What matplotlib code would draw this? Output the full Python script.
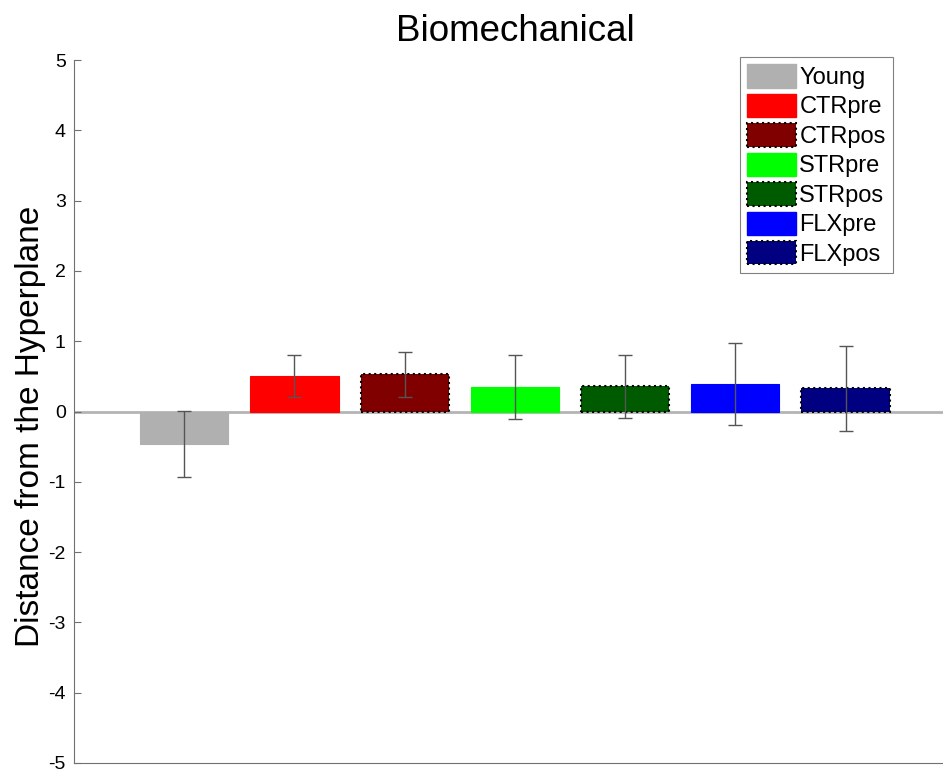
import numpy as np
import matplotlib.pyplot as plt
from matplotlib.patches import Patch

plt.rcParams['font.family'] = ['Liberation Sans', 'DejaVu Sans']
plt.rcParams['axes.unicode_minus'] = False

# ------------------------------ Data ------------------------------
groups = ['Young', 'CTRpre', 'CTRpos', 'STRpre', 'STRpos', 'FLXpre', 'FLXpos']
means = [-0.46, 0.50, 0.53, 0.35, 0.36, 0.39, 0.33]
errs = [0.47, 0.30, 0.32, 0.46, 0.45, 0.58, 0.60]
colors = ['#b0b0b0', '#ff0000', '#800000', '#00ff00', '#005a00', '#0000ff', '#000080']
dotted = [False, False, True, False, True, False, True]

fig = plt.figure(figsize=(9.43, 7.75), dpi=100)
ax = fig.add_axes([0.0785, 0.0155, 0.935, 0.907])

x = np.arange(1, len(groups) + 1)
for xi, m, e, c, d in zip(x, means, errs, colors, dotted):
    if d:
        ax.bar(xi, m, width=0.8, color=c, edgecolor='black', linestyle=':', linewidth=1.5, zorder=2)
    else:
        ax.bar(xi, m, width=0.8, color=c, edgecolor=c, linewidth=0.8, zorder=2)
    ax.errorbar(xi, m, yerr=e, fmt='none', ecolor='#555555', elinewidth=1.0, capsize=5, capthick=1.0, zorder=3)

ax.axhline(0, color='#b4b4b4', linewidth=2, zorder=1)

ax.set_xlim(0, 8)
ax.set_ylim(-5, 5)
ax.set_yticks(np.arange(-5, 6, 1))
ax.set_xticks([])
ax.tick_params(axis='y', direction='in', length=5, labelsize=14, color='#707070', pad=6)
ax.spines['top'].set_visible(False)
ax.spines['right'].set_visible(False)
ax.spines['left'].set_color('#707070')
ax.spines['bottom'].set_color('#707070')

ax.set_title('Biomechanical', fontsize=26.5, pad=14)
ax.set_ylabel('Distance from the Hyperplane', fontsize=24)
ax.yaxis.set_label_coords(-0.032, 0.479)

handles = []
for g, c, d in zip(groups, colors, dotted):
    if d:
        handles.append(Patch(facecolor=c, edgecolor='black', linestyle=':', linewidth=1.5, label=g))
    else:
        handles.append(Patch(facecolor=c, edgecolor=c, label=g))
leg = ax.legend(handles=handles, loc='upper right', bbox_to_anchor=(0.9286, 1.004),
                borderaxespad=0, fontsize=17, handlelength=2.05, handleheight=1.15,
                handletextpad=0.15, labelspacing=0.2, borderpad=0.3, fancybox=False,
                framealpha=1, edgecolor='#808080')
leg.get_frame().set_linewidth(0.8)

fig.savefig('out.png', dpi=100)
